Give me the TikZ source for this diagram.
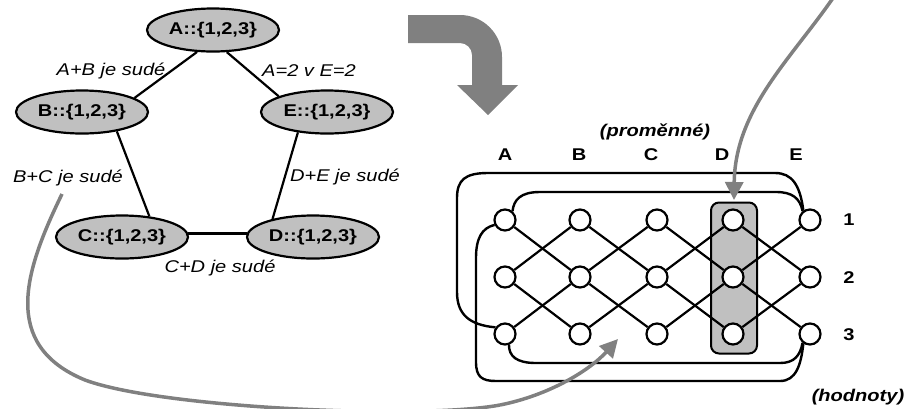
\documentclass[tikz,border=0pt]{standalone}
\usepackage{fontspec}
\setmainfont[FakeStretch=1.18]{Liberation Sans}
\usetikzlibrary{shapes.geometric,arrows.meta}
\definecolor{fillg}{HTML}{C0C0C0}
\definecolor{arrg}{HTML}{808080}
\begin{document}
\begin{tikzpicture}[x=1pt,y=-1pt,
  var/.style={ellipse, draw, line width=2.2pt, fill=fillg, minimum width=132pt, minimum height=43pt, inner sep=0pt, font=\fontsize{17}{20}\selectfont\bfseries},
  elab/.style={font=\fontsize{17}{20}\selectfont\itshape, inner sep=0pt},
  blab/.style={font=\fontsize{17}{20}\selectfont\bfseries, inner sep=0pt},
  bilab/.style={font=\fontsize{17}{20}\selectfont\bfseries\itshape, inner sep=0pt},
  edge/.style={draw, line width=2.2pt},
  val/.style={circle, draw, line width=2.2pt, fill=white, minimum size=21pt, inner sep=0pt},
  gl/.style={line width=2.2pt},
  conn/.style={line width=2.4pt},
  dbox/.style={draw, line width=2pt, fill=fillg, rounded corners=8pt, inner sep=0pt},
  garr/.style={draw=arrg, line width=3.5pt, -{Triangle[length=18pt,width=18pt]}}
]
\useasboundingbox (0,0) rectangle (904,408);

% ---- left constraint graph ----
\node[var] (nA) at (213,30) {A::\{1,2,3\}};
\node[var] (nB) at (82,112) {B::\{1,2,3\}};
\node[var] (nE) at (327,112) {E::\{1,2,3\}};
\node[var] (nC) at (122,237) {C::\{1,2,3\}};
\node[var] (nD) at (313,237) {D::\{1,2,3\}};

\draw[edge] (nA.234) -- (nB.15);
\draw[edge] (nA.302) -- (nE.162);
\draw[edge] (nB.331) -- (nC.37);
\draw[edge] (nE.215) -- (nD.156);
\draw[edge] (nC.3) -- (nD.177);

\node[elab] (lAB) at (111,71) {A+B je sudé};
\node[elab] (lAE) at (309,71) {A=2 v E=2};
\node[elab] (lBC) at (68,178) {B+C je sudé};
\node[elab] (lDE) at (345,177) {D+E je sudé};
\node[elab] (lCD) at (220,268) {C+D je sudé};

% ---- block arrow ----
\fill[arrg] (408,15) -- (460,15) arc[start angle=-90,end angle=0,radius=42]
  -- (502,85) -- (518,85) -- (488,115) -- (457,85) -- (472,85) -- (472,55)
  arc[start angle=0,end angle=-90,radius=12] -- (408,43) -- cycle;

% ---- right network ----
\node[dbox, minimum width=46pt, minimum height=151pt] (dsel) at (734,278) {};

\foreach \c/\x in {a/505,b/580,c/657,d/733,e/810}
  \foreach \r/\y in {1/220,2/277,3/334}
    \node[val] (\c\r) at (\x,\y) {};

\foreach \p/\q in {a/b,b/c,c/d,d/e} {
  \draw[gl] (\p1) -- (\q2);
  \draw[gl] (\p2) -- (\q1);
  \draw[gl] (\p2) -- (\q3);
  \draw[gl] (\p3) -- (\q2);
}

% A-E constraint arcs
\draw[conn] (a3.145) .. controls (470,325) and (457,315) .. (457,292)
  -- (457,198) .. controls (457,180) and (465,173) .. (488,173)
  -- (775,173) .. controls (792,173) and (800,185) .. (e1.125);
\draw[conn] (a1.50) .. controls (514,200) and (520,192) .. (540,192)
  -- (776,192) .. controls (792,192) and (800,198) .. (e1.130);
\draw[conn] (a1.205) .. controls (482,228) and (476,238) .. (476,258)
  -- (476,362) .. controls (476,377) and (482,381) .. (496,381)
  -- (780,381) .. controls (796,381) and (801,365) .. (e3.235);
\draw[conn] (a3.290) .. controls (509,356) and (516,363) .. (536,363)
  -- (780,363) .. controls (794,363) and (800,356) .. (e3.230);

% labels
\node[bilab] (prom) at (655,132) {(proměnné)};
\foreach \c/\x/\t in {a/505/A,b/579/B,c/651/C,d/722/D,e/796/E}
  \node[blab] (h\c) at (\x,155) {\t};
\foreach \r/\y in {1/220,2/278,3/335}
  \node[blab] (r\r) at (849,\y) {\r};
\node[bilab] (hod) at (858,397) {(hodnoty)};

% ---- grey pointer arrows ----
\coordinate (s1) at (833,-2);
\coordinate (t1) at (734,200);
\draw[garr] (s1) .. controls (790,60) and (735,110) .. (t1);

\coordinate (s2) at (62,194);
\coordinate (t2) at (618,339);
\draw[draw=arrg, line width=3.5pt] (s2) .. controls (25,270) and (0,345) .. (85,380)
  .. controls (160,408) and (420,420) .. (500,405);
\draw[garr] (500,405) .. controls (550,395) and (590,370) .. (t2);
\end{tikzpicture}
\end{document}
